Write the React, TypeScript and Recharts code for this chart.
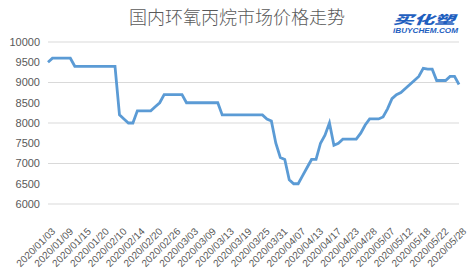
// @ts-nocheck
import { CartesianGrid, Line, LineChart, XAxis, YAxis } from 'recharts';

const janDays = ['03', '06', '07', '08', '09', '10', '13', '14', '15', '16', '17', '19', '20', '21', '22', '23'];
const febDays = ['10', '11', '12', '13', '14', '17', '18', '19', '20', '21', '24', '25', '26', '27', '28'];
const marDays = ['02', '03', '04', '05', '06', '09', '10', '11', '12', '13', '16', '17', '18', '19', '20', '23', '24', '25', '26', '27', '30', '31'];
const aprDays = ['01', '02', '03', '07', '08', '09', '10', '13', '14', '15', '16', '17', '20', '21', '22', '23', '24', '26', '27', '28', '29', '30'];
const mayDays = ['06', '07', '08', '09', '11', '12', '13', '14', '15', '18', '19', '20', '21', '22', '25', '26', '27', '28'];

const dates = [
  ...janDays.map((d) => `2020/01/${d}`),
  ...febDays.map((d) => `2020/02/${d}`),
  ...marDays.map((d) => `2020/03/${d}`),
  ...aprDays.map((d) => `2020/04/${d}`),
  ...mayDays.map((d) => `2020/05/${d}`),
];

const prices = [
  9500, 9600, 9600, 9600, 9600, 9600, 9400, 9400, 9400, 9400, 9400, 9400, 9400, 9400, 9400, 9400,
  8200, 8100, 8000, 8000, 8300, 8300, 8300, 8300, 8400, 8500, 8700, 8700, 8700, 8700, 8700,
  8500, 8500, 8500, 8500, 8500, 8500, 8500, 8500, 8200, 8200, 8200, 8200, 8200, 8200, 8200, 8200, 8200, 8200,
  8100, 8050, 7500, 7150,
  7100, 6600, 6500, 6500, 6700, 6900, 7100, 7100, 7500, 7700, 8000, 7450, 7500, 7600, 7600, 7600, 7600,
  7750, 7950, 8100, 8100, 8100,
  8150, 8350, 8600, 8700, 8750, 8850, 8950, 9050, 9150, 9350, 9330, 9330, 9050, 9050, 9050, 9150, 9150, 8950,
];

const yTicks = [6000, 6500, 7000, 7500, 8000, 8500, 9000, 9500, 10000];

const data = dates.map((date, i) => ({ date, price: prices[i] }));

const font = '"Liberation Sans", "Open Sans", sans-serif';

function DateTick({ x, y, payload }) {
  const ax = x + 8;
  const ay = y + 20;
  return (
    <text x={ax} y={ay} textAnchor="end" fontSize={10} fill="#595959" fontFamily={font} transform={`rotate(-45, ${ax}, ${ay})`}>
      {payload.value}
    </text>
  );
}

export default function App() {
  return (
    <div style={{ position: 'absolute', left: 0, top: 0, width: 472, height: 274, background: '#fff' }}>
      <LineChart width={472} height={274} data={data} margin={{ top: 42, right: 13, bottom: 0, left: 0 }}>
        <text x={237} y={24} textAnchor="middle" fontSize={18} fill="#595959" fontFamily='"Noto Sans CJK SC", sans-serif' fontWeight={300}>
          国内环氧丙烷市场价格走势
        </text>
        <text x={393} y={24} fontSize={12} fill="#1f5fbf" fontStyle="italic" fontWeight={900} fontFamily='"Noto Sans CJK SC", sans-serif' textLength={62} lengthAdjust="spacingAndGlyphs">
          买化塑
        </text>
        <text x={393} y={33} fontSize={6.5} fill="#1f5fbf" fontStyle="italic" fontWeight={700} fontFamily={font} textLength={65} lengthAdjust="spacingAndGlyphs">
          iBUYCHEM.COM
        </text>
        <CartesianGrid vertical={false} stroke="#d9d9d9" />
        <XAxis dataKey="date" interval={3} axisLine={false} tickLine={false} height={70} tick={<DateTick />} />
        <YAxis
          domain={[6000, 10000]}
          ticks={yTicks}
          axisLine={false}
          tickLine={false}
          width={48}
          tick={{ fontSize: 11, fill: '#595959', fontFamily: font }}
        />
        <Line type="linear" dataKey="price" stroke="#5b9bd5" strokeWidth={2.8} dot={false} isAnimationActive={false} />
      </LineChart>
    </div>
  );
}
